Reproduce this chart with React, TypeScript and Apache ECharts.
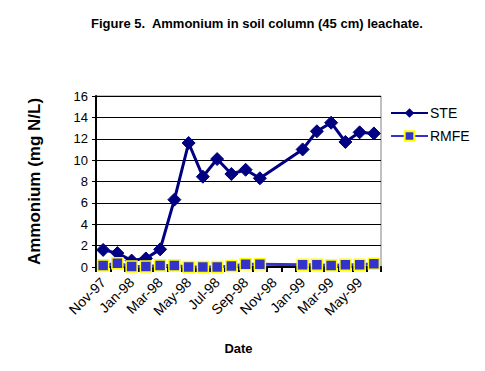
import React, { useEffect, useRef } from "react";
import * as echarts from "echarts";

const months = [
  "Nov-97", "Dec-97", "Jan-98", "Feb-98", "Mar-98", "Apr-98", "May-98", "Jun-98",
  "Jul-98", "Aug-98", "Sep-98", "Oct-98", "Nov-98", "Dec-98", "Jan-99", "Feb-99",
  "Mar-99", "Apr-99", "May-99", "Jun-99",
];
const steValues = [
  1.6, 1.3, 0.6, 0.8, 1.65, 6.3, 11.6, 8.45, 10.1, 8.7, 9.1, 8.3,
  null, null, 11.0, 12.7, 13.5, 11.7, 12.6, 12.5,
];
const rmfeValues = [
  0.15, 0.35, 0.05, 0.05, 0.15, 0.15, 0.0, 0.0, 0.0, 0.1, 0.25, 0.25,
  null, null, 0.2, 0.2, 0.15, 0.2, 0.2, 0.3,
];
const yTicks = { min: 0, max: 16, interval: 2 };

const FONT = "Liberation Sans, Arial, sans-serif";

export default function App() {
  const ref = useRef<HTMLDivElement>(null);
  useEffect(() => {
    if (!ref.current) return;
    const chart = echarts.init(ref.current, null, { renderer: "svg" });
    chart.setOption({
      animation: false,
      backgroundColor: "#ffffff",
      title: {
        text: "Figure 5.  Ammonium in soil column (45 cm) leachate.",
        left: 86,
        top: 12,
        textStyle: { fontFamily: FONT, fontSize: 13, fontWeight: "bold", color: "#000" },
      },
      legend: {
        orient: "vertical",
        left: 385,
        top: 101,
        itemWidth: 37,
        itemHeight: 12,
        itemGap: 9,
        textStyle: { fontFamily: FONT, fontSize: 14, color: "#000", padding: [0, 0, 0, -3] },
        data: ["STE", "RMFE"],
      },
      grid: {
        left: 96,
        right: 104,
        top: 96,
        bottom: 104,
        show: true,
        borderColor: "#808080",
        borderWidth: 1,
        backgroundColor: "transparent",
      },
      xAxis: {
        type: "category",
        data: months,
        boundaryGap: true,
        name: "Date",
        nameLocation: "middle",
        nameGap: 75,
        nameTextStyle: { fontFamily: FONT, fontSize: 13, fontWeight: "bold", color: "#000" },
        axisLine: { lineStyle: { color: "#000", width: 2 } },
        axisTick: { show: true, interval: 0, length: 5, alignWithLabel: false, lineStyle: { color: "#000", width: 2 } },
        axisLabel: {
          interval: 1,
          rotate: 45,
          fontFamily: FONT,
          fontSize: 14,
          color: "#000",
          margin: 13,
        },
        splitLine: { show: false },
      },
      yAxis: {
        type: "value",
        min: yTicks.min,
        max: yTicks.max,
        interval: yTicks.interval,
        name: "Ammonium (mg N/L)",
        nameLocation: "middle",
        nameGap: 53,
        nameTextStyle: { fontFamily: FONT, fontSize: 17, fontWeight: "bold", color: "#000" },
        axisLine: { show: true, lineStyle: { color: "#000", width: 2 } },
        axisTick: { show: true, length: 4, lineStyle: { color: "#000" } },
        axisLabel: { fontFamily: FONT, fontSize: 13, color: "#000", margin: 8 },
        splitLine: { show: true, lineStyle: { color: "#000", width: 1 } },
      },
      series: [
        {
          name: "STE",
          type: "line",
          data: steValues,
          connectNulls: true,
          showAllSymbol: true,
          symbol: "diamond",
          symbolSize: 13,
          lineStyle: { color: "#000080", width: 3 },
          itemStyle: { color: "#000080", borderColor: "#000080" },
          z: 3,
        },
        {
          name: "RMFE",
          type: "line",
          data: rmfeValues,
          connectNulls: true,
          showAllSymbol: true,
          symbol: "rect",
          symbolSize: 11,
          lineStyle: { color: "#3333cc", width: 3 },
          itemStyle: { color: "#3333cc", borderColor: "#ffff00", borderWidth: 1.5 },
          z: 4,
        },
      ],
    });
    return () => chart.dispose();
  }, []);
  return <div ref={ref} style={{ width: 485, height: 371, margin: -8 }} />;
}
